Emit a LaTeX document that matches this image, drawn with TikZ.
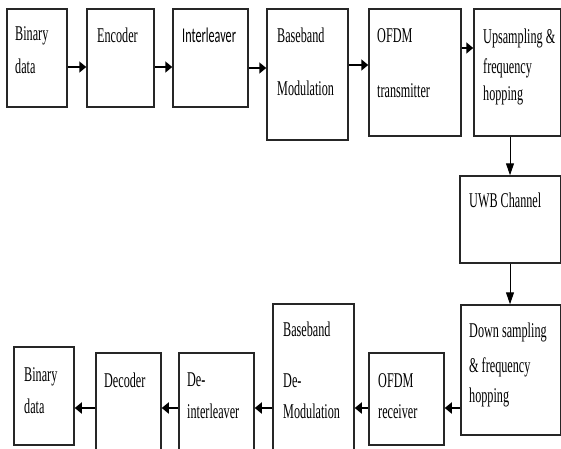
\documentclass[tikz,border=0pt]{standalone}
\usepackage{fontspec}
\usepackage{graphicx}
\setmainfont{Liberation Serif}
\newfontfamily\sansf{Carlito}
\usetikzlibrary{arrows.meta}
\newcommand{\sq}[1]{\scalebox{0.58}[1]{#1}}
\newcommand{\bx}[5]{\node[blk,minimum width={(#4-#2)*1pt},minimum height={(#5-#3)*1pt}] (#1) at ({(#2+#4)/2},{(#3+#5)/2}) {};}
\begin{document}
\begin{tikzpicture}[x=1pt,y=-1pt,
  blk/.style={draw=black!85,line width=1.5pt,inner sep=0pt,rectangle},
  txt/.style={anchor=base west,inner sep=0pt,font=\fontsize{21}{25}\selectfont},
  harr/.style={line width=2pt,-{Triangle[length=7pt,width=11pt]}},
  varr/.style={line width=1pt,-{Triangle[length=12pt,width=8pt]}}]
\useasboundingbox (0,0) rectangle (561,448);
\clip (0,0) rectangle (561,448);
% boxes
\bx{b1}{7}{9}{67}{107}
\bx{b2}{87}{9}{154}{107}
\bx{b3}{173}{9}{248}{107}
\bx{b4}{267}{9}{348}{140}
\bx{b5}{369}{9}{461}{136}
\bx{b6}{474}{9}{560.5}{136}
\bx{b7}{460}{176}{560.5}{263}
\bx{b8}{461}{305}{560.5}{435}
\bx{b9}{369}{353}{444}{445}
\bx{b10}{273}{304}{354}{460}
\bx{b11}{179}{353}{254}{460}
\bx{b12}{96}{353}{161}{460}
\bx{b13}{14}{347}{74}{445}
% arrow rows
\coordinate (r67) at (0,67);
\coordinate (r68) at (0,68);
\coordinate (r65) at (0,65);
\coordinate (r48) at (0,48);
\coordinate (r408) at (0,408);
\coordinate (c510) at (510,0);
% arrows top
\draw[harr] (b1.east |- r67) -- (b2.west |- r67);
\draw[harr] (b2.east |- r67) -- (b3.west |- r67);
\draw[harr] (b3.east |- r68) -- (b4.west |- r68);
\draw[harr] (b4.east |- r65) -- (b5.west |- r65);
\draw[harr] (b5.east |- r48) -- (b6.west |- r48);
\draw[varr] (b6.south -| c510) -- (b7.north -| c510);
\draw[varr] (b7.south -| c510) -- (b8.north -| c510);
% arrows bottom
\draw[harr] (b8.west |- r408) -- (b9.east |- r408);
\draw[harr] (b9.west |- r408) -- (b10.east |- r408);
\draw[harr] (b10.west |- r408) -- (b11.east |- r408);
\draw[harr] (b11.west |- r408) -- (b12.east |- r408);
\draw[harr] (b12.west |- r408) -- (b13.east |- r408);
% texts
\node[txt] (t1a) at (15,40) {\sq{Binary}};
\node[txt] (t1b) at (15,73) {\sq{data}};
\node[txt] (t2) at (97,42) {\sq{Encoder}};
\node[txt] (t3) at (182,42) {\sq{\sansf Interleaver}};
\node[txt] (t4a) at (277,42) {\sq{Baseband}};
\node[txt] (t4b) at (277,95) {\sq{Modulation}};
\node[txt] (t5a) at (377,42) {\sq{OFDM}};
\node[txt] (t5b) at (377,97) {\sq{transmitter}};
\node[txt] (t6a) at (483,43) {\sq{Upsampling \&}};
\node[txt] (t6b) at (483,73) {\sq{frequency}};
\node[txt] (t6c) at (483,100) {\sq{hopping}};
\node[txt] (t7) at (469,207) {\sq{UWB Channel}};
\node[txt] (t8a) at (469,337) {\sq{Down sampling}};
\node[txt] (t8b) at (469,372) {\sq{\& frequency}};
\node[txt] (t8c) at (469,402) {\sq{hopping}};
\node[txt] (t9a) at (378,387) {\sq{OFDM}};
\node[txt] (t9b) at (378,418) {\sq{receiver}};
\node[txt] (t10a) at (283,336) {\sq{Baseband}};
\node[txt] (t10b) at (283,387) {\sq{De-}};
\node[txt] (t10c) at (283,418) {\sq{Modulation}};
\node[txt] (t11a) at (187,386) {\sq{De-}};
\node[txt] (t11b) at (187,418) {\sq{interleaver}};
\node[txt] (t12) at (104,387) {\sq{Decoder}};
\node[txt] (t13a) at (24,381) {\sq{Binary}};
\node[txt] (t13b) at (24,413) {\sq{data}};
\end{tikzpicture}
\end{document}
